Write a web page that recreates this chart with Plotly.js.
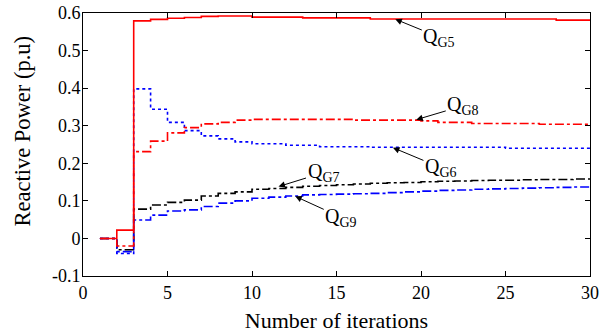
<!DOCTYPE html>
<html>
<head>
<meta charset="utf-8">
<script src="https://cdn.plot.ly/plotly-3.0.1.min.js"></script>
<style>html,body{margin:0;padding:0;background:#fff}#chart{width:602px;height:333px}</style>
</head>
<body>
<div id="chart"></div>
<script>
const iterations = Array.from({length: 30}, (_, i) => i + 1);
const QG5 = [0, 0.022, 0.579, 0.583, 0.586, 0.588, 0.591, 0.592, 0.592, 0.589, 0.589, 0.589, 0.587, 0.587, 0.587, 0.587, 0.584, 0.584, 0.584, 0.584, 0.584, 0.584, 0.584, 0.584, 0.584, 0.584, 0.584, 0.581, 0.581, 0.581];
const QG6 = [0, -0.04, 0.398, 0.344, 0.309, 0.287, 0.273, 0.265, 0.257, 0.252, 0.252, 0.248, 0.248, 0.244, 0.244, 0.244, 0.2425, 0.2425, 0.2425, 0.2425, 0.2425, 0.2425, 0.2425, 0.2425, 0.240, 0.240, 0.240, 0.240, 0.240, 0.239];
const QG7 = [0, -0.03, 0.078, 0.089, 0.096, 0.102, 0.113, 0.120, 0.124, 0.131, 0.133, 0.136, 0.139, 0.141, 0.143, 0.145, 0.147, 0.148, 0.149, 0.151, 0.152, 0.153, 0.154, 0.155, 0.155, 0.156, 0.157, 0.157, 0.158, 0.158];
const QG8 = [0, -0.02, 0.231, 0.259, 0.281, 0.295, 0.305, 0.309, 0.315, 0.317, 0.317, 0.317, 0.317, 0.317, 0.317, 0.315, 0.315, 0.315, 0.315, 0.313, 0.309, 0.309, 0.306, 0.306, 0.306, 0.306, 0.304, 0.304, 0.304, 0.303];
const QG9 = [0, -0.035, 0.049, 0.062, 0.073, 0.076, 0.085, 0.094, 0.100, 0.107, 0.110, 0.113, 0.116, 0.117, 0.118, 0.119, 0.120, 0.122, 0.124, 0.126, 0.128, 0.129, 0.131, 0.132, 0.133, 0.134, 0.135, 0.136, 0.137, 0.137];
const xTicks = [0, 5, 10, 15, 20, 25, 30];
const yTickVals = [-0.1, 0, 0.1, 0.2, 0.3, 0.4, 0.5, 0.6];
const yTickText = ["-0.1", "0", "0.1", "0.2", "0.3", "0.4", "0.5", "0.6"];
const xTitle = "Number of iterations";
const yTitle = "Reactive Power (p.u)";
const labels = [
  {name: "Q<sub>G5</sub>", x: 18.48, y: 0.5835, ax: 44, ay: 18},
  {name: "Q<sub>G8</sub>", x: 19.72, y: 0.316, ax: 47, ay: -14},
  {name: "Q<sub>G6</sub>", x: 18.34, y: 0.2415, ax: 48, ay: 20},
  {name: "Q<sub>G7</sub>", x: 11.57, y: 0.138, ax: 45, ay: -14},
  {name: "Q<sub>G9</sub>", x: 12.56, y: 0.112, ax: 46, ay: 21}
];

const font = "Liberation Serif, Times New Roman, serif";
function tr(y, color, dash, name) {
  return {x: iterations, y: y, type: "scatter", mode: "lines", name: name,
    line: {color: color, dash: dash, width: 1.6, shape: "hv"}};
}
const data = [
  tr(QG9, "#0000ff", "dashdot", "QG9"),
  tr(QG7, "#000000", "dashdot", "QG7"),
  tr(QG6, "#0000ff", "dot", "QG6"),
  tr(QG8, "#ff0000", "dashdot", "QG8"),
  tr(QG5, "#ff0000", "solid", "QG5")
];
const annotations = labels.map(l => ({
  x: l.x, y: l.y, xref: "x", yref: "y", text: l.name, showarrow: true,
  ax: l.ax, ay: l.ay, arrowhead: 2, arrowsize: 1.3, arrowwidth: 1, arrowcolor: "#000",
  font: {family: font, size: 20, color: "#000"}
}));
annotations.push({
  xref: "paper", yref: "paper", x: -0.12, y: 0.55, xanchor: "center", yanchor: "middle",
  text: yTitle, textangle: -90, showarrow: false,
  font: {family: font, size: 22.5, color: "#000"}
});
const layout = {
  width: 602, height: 333,
  margin: {l: 83, r: 12, t: 13, b: 57},
  paper_bgcolor: "#fff", plot_bgcolor: "#fff",
  showlegend: false,
  font: {family: font, size: 16, color: "#000"},
  xaxis: {
    range: [0, 30], tickvals: xTicks, ticks: "inside", ticklen: 5, tickcolor: "#000",
    showline: true, linecolor: "#000", linewidth: 1, mirror: "ticks",
    showgrid: false, zeroline: false,
    tickfont: {family: font, size: 18},
    title: {text: xTitle, font: {family: font, size: 22}, standoff: 11}
  },
  yaxis: {
    range: [-0.1, 0.6], tickvals: yTickVals, ticktext: yTickText, ticks: "inside", ticklen: 5, tickcolor: "#000",
    showline: true, linecolor: "#000", linewidth: 1, mirror: "ticks",
    showgrid: false, zeroline: false, ticklabelstandoff: -2,
    tickfont: {family: font, size: 18}
  },
  annotations: annotations
};
Plotly.newPlot("chart", data, layout, {displayModeBar: false, staticPlot: true});
</script>
</body>
</html>
